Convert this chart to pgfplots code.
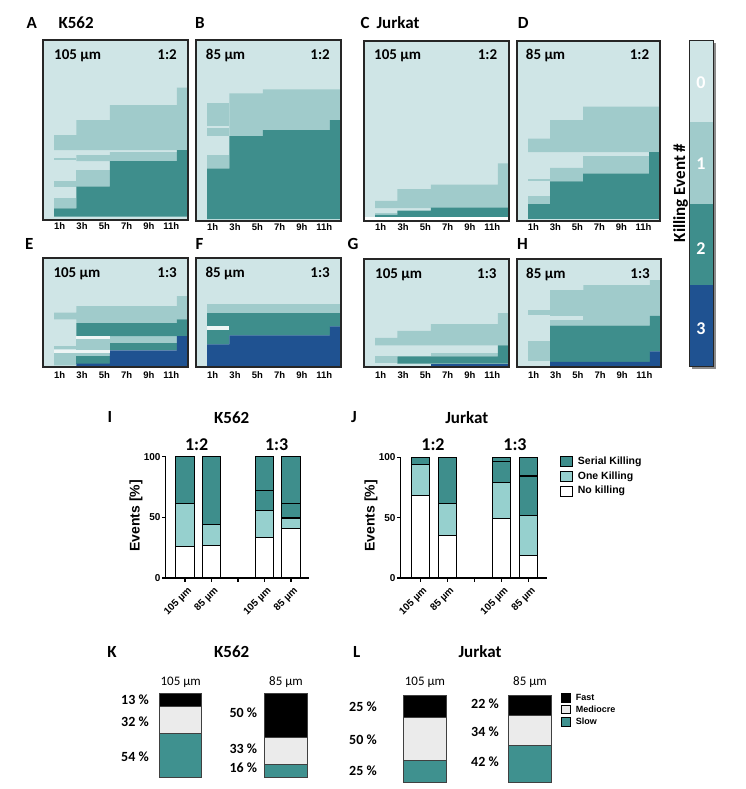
\documentclass[border=0pt]{standalone}
\usepackage{fontspec}
\setmainfont{Carlito}
\newfontfamily\lsans{Liberation Sans}
\usepackage{pgfplots}
\pgfplotsset{compat=1.18}
\definecolor{cz}{RGB}{207,229,230}
\definecolor{co}{RGB}{160,203,203}
\definecolor{ct}{RGB}{62,142,140}
\definecolor{cb}{RGB}{31,82,145}
\definecolor{cw}{RGB}{238,245,245}
\definecolor{bm}{RGB}{150,208,206}
\definecolor{lg}{RGB}{235,235,235}
\definecolor{kt}{RGB}{63,145,143}
\pgfplotsset{
  hf/.style={draw=none, fill=#1},
  hm/.style={scale only axis, anchor=north west, xmin=-0.5, xmax=12.5, y dir=reverse,
    axis background/.style={fill=cz}, axis on top,
    axis line style={line width=1.3pt, black!85},
    xtick={1,3,5,7,9,11}, xticklabels={1h,3h,5h,7h,9h,11h}, ytick=\empty,
    major tick length=0pt,
    xticklabel style={font=\lsans\bfseries\fontsize{9.5}{10}\selectfont, inner sep=2pt}},
  bc/.style={scale only axis, anchor=south west, ymin=0, ymax=100,
    ybar stacked, bar width=18.3pt,
    axis x line*=bottom, axis y line*=left,
    axis line style={line width=1.3pt},
    xtick={1,2,3,4,5}, ytick={0,50,100}, yticklabels={0,50,100},
    tick align=outside, major tick length=3.5pt, tick style={line width=1.2pt, black},
    every axis plot/.append style={draw=black, line width=1.1pt},
    yticklabel style={font=\lsans\bfseries\fontsize{10}{10}\selectfont, inner sep=1.5pt},
    xticklabel style={font=\lsans\bfseries\fontsize{10}{10}\selectfont, xshift=6pt, yshift=-7pt, rotate=45, anchor=east, inner sep=1pt},
    xticklabels={105 µm,85 µm,,105 µm,85 µm}},
  kl/.style={scale only axis, hide axis, anchor=south west, ymin=0, ymax=100,
    ybar stacked, bar width=43pt,
    every axis plot/.append style={draw=black!75, line width=0.9pt}}
}
\newcommand{\bigb}{\bfseries\fontsize{17}{17}\selectfont}
\newcommand{\inb}{\bfseries\fontsize{15}{15}\selectfont}
\begin{document}
\begin{tikzpicture}
\path[use as bounding box] (0pt,0pt) rectangle (745pt,-789pt);
% ---------- letters / titles
\node[font=\bigb, anchor=base] at (31.7pt,-28.4pt) {A};
\node[font=\bigb, anchor=base west] at (55pt,-28.4pt) {K562};
\node[font=\bigb, anchor=base] at (200pt,-28.4pt) {B};
\node[font=\bigb, anchor=base] at (365pt,-28.4pt) {C};
\node[font=\bigb, anchor=base west] at (373pt,-28.4pt) {Jurkat};
\node[font=\bigb, anchor=base] at (523.3pt,-28.4pt) {D};
\node[font=\bigb, anchor=base] at (29.3pt,-249.4pt) {E};
\node[font=\bigb, anchor=base] at (199.5pt,-249.4pt) {F};
\node[font=\bigb, anchor=base] at (353pt,-249.4pt) {G};
\node[font=\bigb, anchor=base] at (522.5pt,-249.4pt) {H};
% ---------- A
\begin{axis}[hm, at={(43pt,-40pt)}, width=145pt, height=180pt, ymin=30, ymax=570]
\addplot[hf=co] coordinates {(0.5,360)(0.5,315)(2.5,315)(2.5,270)(5.5,270)(5.5,225)(11.5,225)(11.5,173)(12.5,173)(12.5,360)};
\addplot[hf=co] coordinates {(0.5,385)(2.5,385)(2.5,391)(0.5,391)};
\addplot[hf=co] coordinates {(2.5,393)(2.5,375)(5.5,375)(5.5,366)(11.5,366)(11.5,393)};
\addplot[hf=co] coordinates {(0.5,453)(2.5,453)(2.5,470)(0.5,470)};
\addplot[hf=co] coordinates {(2.5,420)(5.5,420)(5.5,470)(2.5,470)};
\addplot[hf=co] coordinates {(0.5,503)(2.5,503)(2.5,535)(0.5,535)};
\addplot[hf=ct] coordinates {(0.5,560)(0.5,535)(2.5,535)(2.5,470)(5.5,470)(5.5,393)(11.5,393)(11.5,360)(12.5,360)(12.5,560)};
\end{axis}
% ---------- B
\begin{axis}[hm, at={(196pt,-40pt)}, width=145pt, height=181pt, ymin=30, ymax=572]
\addplot[hf=co] coordinates {(0.5,220)(2.5,220)(2.5,288)(0.5,288)};
\addplot[hf=co] coordinates {(0.5,293)(2.5,293)(2.5,318)(0.5,318)};
\addplot[hf=co] coordinates {(2.5,318)(2.5,190)(5.5,190)(5.5,178)(12.5,178)(12.5,318)};
\addplot[hf=co] coordinates {(0.5,375)(2.5,375)(2.5,415)(0.5,415)};
\addplot[hf=ct] coordinates {(0.5,566)(0.5,415)(2.5,415)(2.5,318)(5.5,318)(5.5,300)(11.5,300)(11.5,270)(12.5,270)(12.5,566)};
\end{axis}
% ---------- C
\begin{axis}[hm, at={(364pt,-41pt)}, width=145pt, height=180pt, ymin=33, ymax=568]
\addplot[hf=co] coordinates {(0.5,530)(0.5,508)(2.5,508)(2.5,473)(5.5,473)(5.5,460)(11.5,460)(11.5,397)(12.5,397)(12.5,530)};
\addplot[hf=co] coordinates {(0.5,543)(2.5,543)(2.5,550)(0.5,550)};
\addplot[hf=ct] coordinates {(0.5,556)(0.5,550)(2.5,550)(2.5,537)(5.5,537)(5.5,528)(12.5,528)(12.5,556)};
\addplot[hf=white] coordinates {(-0.5,556)(12.5,556)(12.5,568)(-0.5,568)};
\end{axis}
% ---------- D
\begin{axis}[hm, at={(517pt,-41pt)}, width=143pt, height=180pt, ymin=33, ymax=568]
\addplot[hf=co] coordinates {(0.5,363)(0.5,323)(2.5,323)(2.5,268)(5.5,268)(5.5,228)(12.5,228)(12.5,363)};
\addplot[hf=co] coordinates {(0.5,443)(2.5,443)(2.5,448)(0.5,448)};
\addplot[hf=co] coordinates {(2.5,450)(2.5,410)(5.5,410)(5.5,375)(11.5,375)(11.5,450)};
\addplot[hf=co] coordinates {(0.5,495)(2.5,495)(2.5,518)(0.5,518)};
\addplot[hf=ct] coordinates {(0.5,562)(0.5,518)(2.5,518)(2.5,450)(5.5,450)(5.5,427)(11.5,427)(11.5,363)(12.5,363)(12.5,562)};
\end{axis}
% ---------- E
\begin{axis}[hm, at={(43pt,-258pt)}, width=145pt, height=109pt, ymin=113, ymax=440, xticklabel style={yshift=-2pt}]
\addplot[hf=co] coordinates {(0.5,277)(2.5,277)(2.5,257)(11.5,257)(11.5,227)(12.5,227)(12.5,297)(11.5,297)(11.5,308)(2.5,308)(2.5,297)(0.5,297)};
\addplot[hf=co] coordinates {(2.5,357)(5.5,357)(5.5,388)(2.5,388)};
\addplot[hf=co] coordinates {(5.5,347)(11.5,347)(11.5,368)(5.5,368)};
\addplot[hf=co] coordinates {(0.5,378)(2.5,378)(2.5,386)(0.5,386)};
\addplot[hf=co] coordinates {(0.5,397)(5.5,397)(5.5,408)(2.5,408)(2.5,435)(0.5,435)};
\addplot[hf=ct] coordinates {(2.5,308)(11.5,308)(11.5,297)(12.5,297)(12.5,347)(2.5,347)};
\addplot[hf=ct] coordinates {(5.5,368)(11.5,368)(11.5,390)(5.5,390)};
\addplot[hf=ct] coordinates {(2.5,408)(5.5,408)(5.5,430)(2.5,430)};
\addplot[hf=cb] coordinates {(2.5,430)(5.5,430)(5.5,390)(11.5,390)(11.5,347)(12.5,347)(12.5,440)(2.5,440)};
\addplot[hf=cw] coordinates {(2.5,347)(5.5,347)(5.5,357)(2.5,357)};
\addplot[hf=cw] coordinates {(0.5,388)(5.5,388)(5.5,397)(0.5,397)};
\end{axis}
% ---------- F
\begin{axis}[hm, at={(196pt,-258pt)}, width=145pt, height=109pt, ymin=113, ymax=440, xticklabel style={yshift=-2pt}]
\addplot[hf=co] coordinates {(0.5,250)(12.5,250)(12.5,278)(0.5,278)};
\addplot[hf=ct] coordinates {(0.5,278)(12.5,278)(12.5,318)(11.5,318)(11.5,345)(2.5,345)(2.5,372)(0.5,372)};
\addplot[hf=cw] coordinates {(0.5,318)(2.5,318)(2.5,330)(0.5,330)};
\addplot[hf=cb] coordinates {(0.5,440)(0.5,372)(2.5,372)(2.5,345)(11.5,345)(11.5,318)(12.5,318)(12.5,440)};
\end{axis}
% ---------- G
\begin{axis}[hm, at={(364pt,-259pt)}, width=145pt, height=108pt, ymin=117, ymax=440, xticklabel style={yshift=-2pt}]
\addplot[hf=co] coordinates {(0.5,375)(0.5,353)(2.5,353)(2.5,332)(5.5,332)(5.5,312)(11.5,312)(11.5,279)(12.5,279)(12.5,375)};
\addplot[hf=co] coordinates {(0.5,408)(2.5,408)(2.5,428)(0.5,428)};
\addplot[hf=co] coordinates {(5.5,397)(11.5,397)(11.5,408)(5.5,408)};
\addplot[hf=ct] coordinates {(2.5,408)(11.5,408)(11.5,375)(12.5,375)(12.5,430)(2.5,430)};
\addplot[hf=cb] coordinates {(5.5,430)(12.5,430)(12.5,440)(5.5,440)};
\end{axis}
% ---------- H
\begin{axis}[hm, at={(517pt,-259pt)}, width=144pt, height=108pt, ymin=117, ymax=440, xticklabel style={yshift=-2pt}]
\addplot[hf=co] coordinates {(0.5,270)(2.5,270)(2.5,285)(0.5,285)};
\addplot[hf=co] coordinates {(2.5,316)(2.5,210)(5.5,210)(5.5,195)(11.5,195)(11.5,180)(12.5,180)(12.5,316)};
\addplot[hf=cz] coordinates {(2.5,288)(5.5,288)(5.5,300)(2.5,300)};
\addplot[hf=co] coordinates {(0.5,362)(2.5,362)(2.5,422)(0.5,422)};
\addplot[hf=ct] coordinates {(2.5,316)(11.5,316)(11.5,287)(12.5,287)(12.5,393)(11.5,393)(11.5,425)(2.5,425)};
\addplot[hf=cb] coordinates {(2.5,425)(11.5,425)(11.5,393)(12.5,393)(12.5,440)(2.5,440)};
\end{axis}
% ---------- panel inner labels
\foreach \xl/\xr/\yb/\lt/\rt in {54/177/59.5/105 µm/1:2, 205.7/330/59.5/85 µm/1:2, 374/497.3/59.5/105 µm/1:2, 525.7/649.3/59.5/85 µm/1:2,
  53.3/177/277/105 µm/1:3, 205.3/330/277/85 µm/1:3, 375/496.7/278/105 µm/1:3, 526/650/278/85 µm/1:3}{
  \node[font=\inb, anchor=base west, inner sep=0pt] at (\xl pt,-\yb pt) {\lt};
  \node[font=\inb, anchor=base east, inner sep=0pt] at (\xr pt,-\yb pt) {\rt};
}
% ---------- colour bar
\fill[black!45] (691.8pt,-43.2pt) rectangle (716pt,-369.2pt);
\begin{axis}[scale only axis, anchor=north west, at={(689.3pt,-40.7pt)}, width=24pt, height=326pt,
  xmin=0, xmax=1, ymin=0, ymax=4, xtick=\empty, ytick=\empty, axis on top,
  axis line style={line width=1.2pt, black!85}]
\addplot[hf=cz] coordinates {(0,3)(1,3)(1,4)(0,4)};
\addplot[hf=co] coordinates {(0,2)(1,2)(1,3)(0,3)};
\addplot[hf=ct] coordinates {(0,1)(1,1)(1,2)(0,2)};
\addplot[hf=cb] coordinates {(0,0)(1,0)(1,1)(0,1)};
\end{axis}
\foreach \v/\yy in {0/82.7,1/163.3,2/248.3,3/328.3}{
  \node[font=\bfseries\fontsize{18}{18}\selectfont, text=white] at (701pt,-\yy pt) {\v};
}
\node[font=\bfseries\fontsize{17}{17}\selectfont, rotate=90] at (680.7pt,-193pt) {Killing Event \#};
% ---------- I / J
\node[font=\bigb, anchor=base] at (110pt,-422.4pt) {I};
\node[font=\bigb, anchor=base] at (231.7pt,-423.4pt) {K562};
\node[font=\bigb, anchor=base] at (354pt,-422.4pt) {J};
\node[font=\bigb, anchor=base] at (466.7pt,-423.4pt) {Jurkat};
\node[font=\bfseries\fontsize{18}{18}\selectfont, anchor=base] at (196.7pt,-450.5pt) {1:2};
\node[font=\bfseries\fontsize{18}{18}\selectfont, anchor=base] at (276.7pt,-450.5pt) {1:3};
\node[font=\bfseries\fontsize{18}{18}\selectfont, anchor=base] at (433pt,-450.5pt) {1:2};
\node[font=\bfseries\fontsize{18}{18}\selectfont, anchor=base] at (515pt,-450.5pt) {1:3};
\node[font=\lsans\bfseries\fontsize{14}{14}\selectfont, rotate=90] at (136pt,-515.7pt) {Events [\%]};
\node[font=\lsans\bfseries\fontsize{14}{14}\selectfont, rotate=90] at (371pt,-515.7pt) {Events [\%]};
\begin{axis}[bc, at={(165.7pt,-578pt)}, width=143.3pt, height=121.3pt, xmin=0.27, xmax=5.68]
\addplot[fill=white] coordinates {(1,26)(2,27)(4,33.5)(5,40.5)};
\addplot[fill=bm] coordinates {(1,35.5)(2,17)(4,22)(5,9)};
\addplot[fill=ct] coordinates {(1,38.5)(2,56)(4,16.5)(5,12)};
\addplot[fill=ct] coordinates {(1,0)(2,0)(4,28)(5,38.5)};
\end{axis}
\begin{axis}[bc, at={(400.7pt,-578pt)}, width=146pt, height=120.7pt, xmin=0.28, xmax=5.66]
\addplot[fill=white] coordinates {(1,68.5)(2,35.5)(4,49.5)(5,18.5)};
\addplot[fill=bm] coordinates {(1,25.5)(2,26)(4,29.5)(5,33)};
\addplot[fill=ct] coordinates {(1,6)(2,38.5)(4,17.5)(5,33)};
\addplot[fill=ct] coordinates {(1,0)(2,0)(4,3.5)(5,15.5)};
\end{axis}
% legend J
\foreach \c/\yy/\t in {ct/461.7/Serial Killing, bm/476.7/One Killing, white/491/No killing}{
  \draw[fill=\c, line width=1pt] (560pt,-\yy pt+5pt) rectangle (572.7pt,-\yy pt-5pt);
  \node[font=\lsans\bfseries\fontsize{10.5}{10.5}\selectfont, anchor=west, inner sep=0pt] at (577.7pt,-\yy pt) {\t};
}
% ---------- K / L
\node[font=\bigb, anchor=base] at (112pt,-657.4pt) {K};
\node[font=\bigb, anchor=base] at (231.7pt,-657.4pt) {K562};
\node[font=\bigb, anchor=base] at (356.7pt,-657.4pt) {L};
\node[font=\bigb, anchor=base] at (480pt,-657.4pt) {Jurkat};
\foreach \xx/\t in {180.7/105 µm, 286/85 µm, 425/105 µm, 530/85 µm}{
  \node[font=\fontsize{13}{13}\selectfont, anchor=base] at (\xx pt,-685pt) {\t};
}
\begin{axis}[kl, at={(150pt,-777.7pt)}, width=170pt, height=84.4pt, xmin=150, xmax=320, bar width=42.4pt]
\addplot[fill=kt] coordinates {(180.5,52)(286,16)};
\addplot[fill=lg] coordinates {(180.5,32)(286,32)};
\addplot[fill=black] coordinates {(180.5,16)(286,52)};
\end{axis}
\begin{axis}[kl, at={(395pt,-782pt)}, width=170pt, height=87pt, xmin=395, xmax=565, bar width=43.4pt]
\addplot[fill=kt] coordinates {(425,25)(530,42)};
\addplot[fill=lg] coordinates {(425,49)(530,34)};
\addplot[fill=black] coordinates {(425,26)(530,24)};
\end{axis}
\foreach \xx/\yy/\t in {149/704.5/13, 149/726/32, 149/761/54, 257.3/717.7/50, 257.3/753.4/33, 257.3/772/16,
  377/711.4/25, 377/744.4/50, 377/775.4/25, 499/708.4/22, 499/736/34, 499/766/42}{
  \node[font=\bfseries\fontsize{14}{14}\selectfont, anchor=base east, inner sep=0pt] at (\xx pt,-\yy pt) {\t\ \%};
}
\foreach \c/\yy/\t in {black/697.7/Fast, lg/709.5/Mediocre, kt/721.7/Slow}{
  \draw[fill=\c, line width=0.9pt] (561pt,-\yy pt+4.3pt) rectangle (570.7pt,-\yy pt-4.3pt);
  \node[font=\lsans\bfseries\fontsize{9}{9}\selectfont, anchor=west, inner sep=0pt] at (575.7pt,-\yy pt) {\t};
}
\end{tikzpicture}
\end{document}
